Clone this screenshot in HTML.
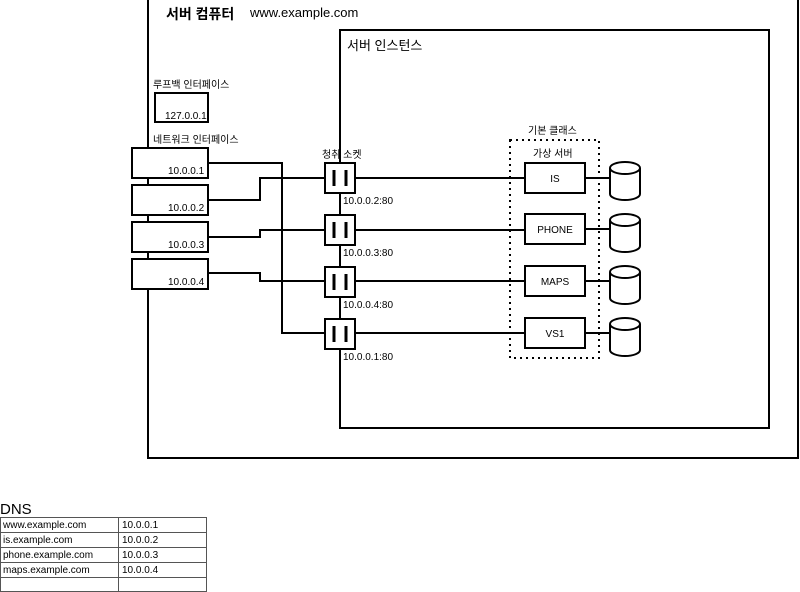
<!DOCTYPE html>
<html><head><meta charset="utf-8"><style>
html,body{margin:0;padding:0;background:#fff;width:800px;height:592px;overflow:hidden}
svg{display:block}
text{font-family:"Liberation Sans","Noto Sans CJK KR",sans-serif;fill:#000}
</style></head><body>
<svg width="800" height="592" viewBox="0 0 800 592" xmlns="http://www.w3.org/2000/svg">
<g fill="none" stroke="#000" stroke-width="2">
<rect x="148" y="-2" width="650" height="460"/>
<rect x="340" y="30" width="429" height="398"/>
<rect x="155" y="93" width="53" height="29"/>
<rect x="132" y="148" width="76" height="30" fill="#fff"/>
<rect x="132" y="185" width="76" height="30" fill="#fff"/>
<rect x="132" y="222" width="76" height="30" fill="#fff"/>
<rect x="132" y="259" width="76" height="30" fill="#fff"/>
<polyline points="208,163 282,163 282,333 325,333"/>
<polyline points="208,200 260,200 260,178 325,178"/>
<polyline points="208,237 260,237 260,230 325,230"/>
<polyline points="208,273 260,273 260,281 325,281"/>
<line x1="355" y1="178" x2="525" y2="178"/>
<line x1="355" y1="230" x2="525" y2="230"/>
<line x1="355" y1="281" x2="525" y2="281"/>
<line x1="355" y1="333" x2="525" y2="333"/>
<rect x="325" y="163" width="30" height="30" fill="#fff"/>
<rect x="325" y="215" width="30" height="30" fill="#fff"/>
<rect x="325" y="267" width="30" height="30" fill="#fff"/>
<rect x="325" y="319" width="30" height="30" fill="#fff"/>
<rect x="510" y="140" width="89" height="218" stroke-dasharray="2,4"/>
<rect x="525" y="163" width="60" height="30" fill="#fff"/>
<rect x="525" y="214" width="60" height="30" fill="#fff"/>
<rect x="525" y="266" width="60" height="30" fill="#fff"/>
<rect x="525" y="318" width="60" height="30" fill="#fff"/>
<line x1="585" y1="178" x2="610" y2="178"/>
<line x1="585" y1="229" x2="610" y2="229"/>
<line x1="585" y1="281" x2="610" y2="281"/>
<line x1="585" y1="333" x2="610" y2="333"/>
</g>
<g stroke="#000" stroke-width="3">
<line x1="334" y1="170" x2="334" y2="186"/><line x1="346" y1="170" x2="346" y2="186"/>
<line x1="334" y1="222" x2="334" y2="238"/><line x1="346" y1="222" x2="346" y2="238"/>
<line x1="334" y1="274" x2="334" y2="290"/><line x1="346" y1="274" x2="346" y2="290"/>
<line x1="334" y1="326" x2="334" y2="342"/><line x1="346" y1="326" x2="346" y2="342"/>
</g>
<g fill="#fff" stroke="#000" stroke-width="2">
<path d="M610,168 v26 a15,6 0 0 0 30,0 v-26"/><ellipse cx="625" cy="168" rx="15" ry="6"/>
<path d="M610,220 v26 a15,6 0 0 0 30,0 v-26"/><ellipse cx="625" cy="220" rx="15" ry="6"/>
<path d="M610,272 v26 a15,6 0 0 0 30,0 v-26"/><ellipse cx="625" cy="272" rx="15" ry="6"/>
<path d="M610,324 v26 a15,6 0 0 0 30,0 v-26"/><ellipse cx="625" cy="324" rx="15" ry="6"/>
</g>
<text x="166" y="19" font-size="14" font-weight="bold">서버 컴퓨터</text>
<text x="250" y="17" font-size="13">www.example.com</text>
<text x="347" y="50" font-size="13">서버 인스턴스</text>
<g font-size="10">
<text x="153" y="88">루프백 인터페이스</text>
<text x="165" y="119">127.0.0.1</text>
<text x="153" y="143">네트워크 인터페이스</text>
<text x="168" y="174">10.0.0.1</text>
<text x="168" y="211">10.0.0.2</text>
<text x="168" y="248">10.0.0.3</text>
<text x="168" y="285">10.0.0.4</text>
<text x="322" y="158">청취 소켓</text>
<text x="343" y="204">10.0.0.2:80</text>
<text x="343" y="256">10.0.0.3:80</text>
<text x="343" y="308">10.0.0.4:80</text>
<text x="343" y="360">10.0.0.1:80</text>
<text x="528" y="134">기본 클래스</text>
<text x="533" y="157">가상 서버</text>
<text x="555" y="182" text-anchor="middle">IS</text>
<text x="555" y="233" text-anchor="middle">PHONE</text>
<text x="555" y="285" text-anchor="middle">MAPS</text>
<text x="555" y="337" text-anchor="middle">VS1</text>
</g>
<text x="0" y="514" font-size="15">DNS</text>
<g fill="none" stroke="#555" stroke-width="1">
<rect x="0.5" y="517.5" width="206" height="74"/>
<line x1="118.5" y1="517" x2="118.5" y2="592"/>
<line x1="0" y1="532.5" x2="207" y2="532.5"/>
<line x1="0" y1="547.5" x2="207" y2="547.5"/>
<line x1="0" y1="562.5" x2="207" y2="562.5"/>
<line x1="0" y1="577.5" x2="207" y2="577.5"/>
</g>
<g font-size="10">
<text x="3" y="528">www.example.com</text><text x="122" y="528">10.0.0.1</text>
<text x="3" y="543">is.example.com</text><text x="122" y="543">10.0.0.2</text>
<text x="3" y="558">phone.example.com</text><text x="122" y="558">10.0.0.3</text>
<text x="3" y="573">maps.example.com</text><text x="122" y="573">10.0.0.4</text>
</g>
</svg>
</body></html>
